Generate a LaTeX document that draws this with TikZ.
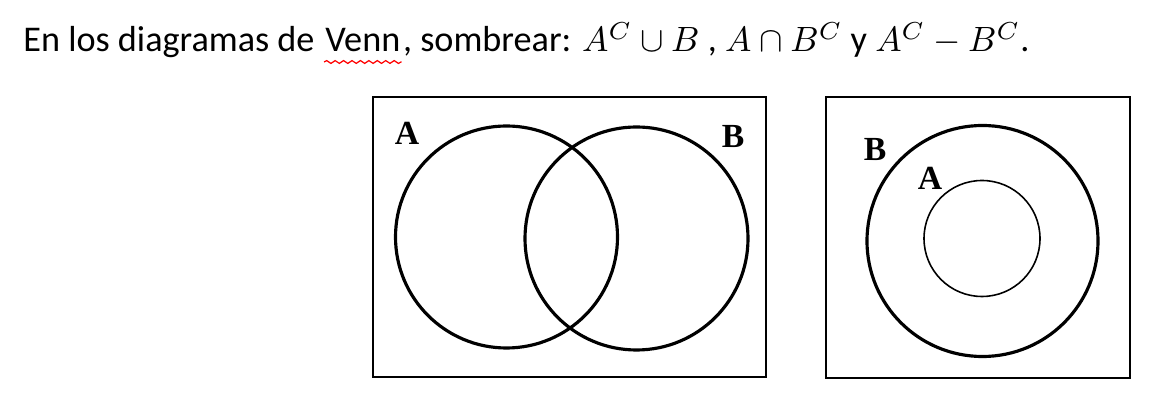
\documentclass[tikz,border=0pt]{standalone}
\usepackage{amsmath}
\usepackage{amssymb}
\usepackage{fontspec}
\setmainfont{Carlito}
\newfontfamily\labelfont{Liberation Serif}
\usetikzlibrary{positioning, decorations.pathmorphing}

\begin{document}
\begin{tikzpicture}[thick,
	title/.style = {inner sep=0pt, anchor=base west, font=\fontsize{10.3}{12}\selectfont},
	set/.style = {draw, circle, line width=0.9pt, inner sep=0pt},
	subset/.style = {draw, circle, line width=0.45pt, inner sep=0pt},
	universe/.style = {draw, line width=0.5pt},
	lbl/.style = {inner sep=0pt, font=\labelfont\bfseries\fontsize{9.6}{11}\selectfont}]
		\useasboundingbox (0, 0) rectangle (11.6, 4.1);
		\node [title] (t1) at (0.22, 3.58) {En los diagramas de};
		\node [title] (venn) at ([xshift=2.3pt]t1.base east) {Venn};
		\node [title] (t2) at (venn.base east) {, sombrear: $A^{C}\cup B$ , $A\cap B^{C}$ y $A^{C}-B^{C}$.};
		\draw [red, line width=0.35pt, decorate, decoration={snake, amplitude=0.4pt, segment length=2.4pt}] ([yshift=-0.1cm]venn.base west) -- ([yshift=-0.1cm]venn.base east);
	% first diagram
		\draw [universe] (3.73, 3.13) rectangle (7.66, 0.33);
		\node [set, minimum size=2.22cm] (0) at (5.065, 1.73) {};
		\node [set, minimum size=2.23cm] (1) at (6.365, 1.715) {};
		\node [lbl] (2) at (4.07, 2.77) {A};
		\node [lbl] (3) at (7.33, 2.73) {B};
	% second diagram
		\draw [universe] (8.26, 3.13) rectangle (11.30, 0.32);
		\node [set, minimum size=2.31cm] (4) at (9.825, 1.69) {};
		\node [subset, minimum size=1.16cm] (5) at (9.82, 1.715) {};
		\node [lbl] (6) at (8.75, 2.60) {B};
		\node [lbl] (7) at (9.30, 2.32) {A};
\end{tikzpicture}
\end{document}
